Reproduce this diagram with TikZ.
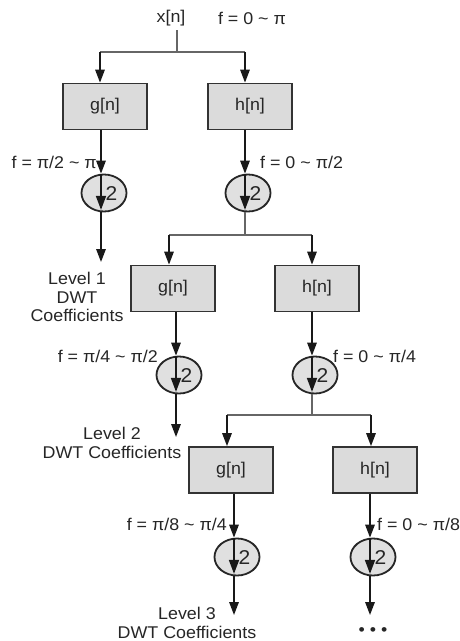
\documentclass[tikz,border=0pt]{standalone}
\usepackage{fontspec}
\setmainfont{Liberation Sans}[FakeStretch=1.05]
\usetikzlibrary{arrows.meta,shapes.geometric}
\newcommand{\tld}{\textasciitilde{}}
\begin{document}
\begin{tikzpicture}[x=1pt,y=-1pt,
  every node/.style={font=\fontsize{17}{18.5}\selectfont, inner sep=0pt, text=black!85},
  filt/.style={draw=black!80, line width=1.8pt, fill=black!14, minimum width=84pt, minimum height=46pt},
  dsamp/.style={ellipse, draw=black!85, line width=1.8pt, fill=black!12, minimum width=45pt, minimum height=37pt},
  conn/.style={line width=1.6pt, draw=black!90, -{Triangle[length=13pt,width=9.5pt]}},
  innerarr/.style={line width=1.6pt, draw=black!90, -{Triangle[length=14pt,width=10pt]}},
  two/.style={font=\fontsize{20}{20}\selectfont},
  wire/.style={line width=1.4pt, draw=black!60},
  lbl/.style={align=center},
]
\useasboundingbox (0,0) rectangle (459,641);
\fill[white] (0,0) rectangle (459,641);

% ---------- nodes ----------
\node (xn) at (171,18) {x[n]};
\node (f0) at (252,18) {f = 0 \tld\ π};

\node[filt] (g1) at (105,106.5) {g[n]};
\node[filt] (h1) at (250,106.5) {h[n]};
\node[dsamp] (d1g) at (104,193) {};
\node[dsamp] (d1h) at (248,193) {};

\node[filt] (g2) at (173,288.5) {g[n]};
\node[filt] (h2) at (317,288.5) {h[n]};
\node[dsamp] (d2g) at (179,375) {};
\node[dsamp] (d2h) at (315,375) {};

\node[filt] (g3) at (231,470) {g[n]};
\node[filt] (h3) at (375,470) {h[n]};
\node[dsamp] (d3g) at (237,557) {};
\node[dsamp] (d3h) at (373,557) {};

\foreach \d in {d1g,d1h,d2g,d2h,d3g,d3h}{
  \node[two] (\d two) at ([xshift=7.5pt,yshift=-1pt]\d.center) {2};
  \coordinate (\d top) at ([xshift=-3pt]\d.north);
  \coordinate (\d bot) at ([xshift=-3pt]\d.south);
  \draw[innerarr] (\d top) -- ([yshift=2.5pt]\d bot);
}

% frequency labels
\node[anchor=east] (fg1) at (97,162) {f = π/2 \tld\ π};
\node[anchor=west] (fh1) at (260,162) {f = 0 \tld\ π/2};
\node[anchor=east] (fg2) at (158,356) {f = π/4 \tld\ π/2};
\node[anchor=west] (fh2) at (333,356) {f = 0 \tld\ π/4};
\node[anchor=east] (fg3) at (227,524) {f = π/8 \tld\ π/4};
\node[anchor=west] (fh3) at (377,524) {f = 0 \tld\ π/8};

% level labels
\node[lbl] (lv1) at (77,297) {Level 1\\DWT\\Coefficients};
\node[lbl] (lv2) at (112,443) {Level 2\\DWT Coefficients};
\node[lbl] (lv3) at (187,623) {Level 3\\DWT Coefficients};
\node (dots) at (373,632) {\textbullet\ \textbullet\ \textbullet};

% ---------- coordinates ----------
\coordinate (s1) at (177,52);
\coordinate (s2) at (245,235);
\coordinate (s3) at (312,415);
\coordinate (g1in) at ([xshift=-5pt]g1.north);
\coordinate (h1in) at ([xshift=-5pt]h1.north);
\coordinate (g2in) at ([xshift=-4pt]g2.north);
\coordinate (h2in) at ([xshift=-5pt]h2.north);
\coordinate (g3in) at ([xshift=-4pt]g3.north);
\coordinate (h3in) at ([xshift=-4pt]h3.north);
\coordinate (o1) at (101,262);
\coordinate (o2) at (176,437);
\coordinate (o3) at (234,615);
\coordinate (o4) at (370,615);

% ---------- level 1 ----------
\draw[wire] (s1 |- xn.south) ++(0,4) -- (s1);
\draw[wire] (s1 -| g1in) -- (s1 -| h1in);
\draw[conn] (s1 -| g1in) -- (g1in);
\draw[conn] (s1 -| h1in) -- (h1in);
\draw[conn] (g1.south -| d1gtop) -- (d1gtop);
\draw[conn] (h1.south -| d1htop) -- (d1htop);
\draw[conn] (d1gbot) -- (o1);

% ---------- level 2 ----------
\draw[wire] (d1hbot) -- (s2);
\draw[wire] (s2 -| g2in) -- (s2 -| h2in);
\draw[conn] (s2 -| g2in) -- (g2in);
\draw[conn] (s2 -| h2in) -- (h2in);
\draw[conn] (g2.south -| d2gtop) -- (d2gtop);
\draw[conn] (h2.south -| d2htop) -- (d2htop);
\draw[conn] (d2gbot) -- (o2);

% ---------- level 3 ----------
\draw[wire] (d2hbot) -- (s3);
\draw[wire] (s3 -| g3in) -- (s3 -| h3in);
\draw[conn] (s3 -| g3in) -- (g3in);
\draw[conn] (s3 -| h3in) -- (h3in);
\draw[conn] (g3.south -| d3gtop) -- (d3gtop);
\draw[conn] (h3.south -| d3htop) -- (d3htop);
\draw[conn] (d3gbot) -- (o3);
\draw[conn] (d3hbot) -- (o4);
\end{tikzpicture}
\end{document}
